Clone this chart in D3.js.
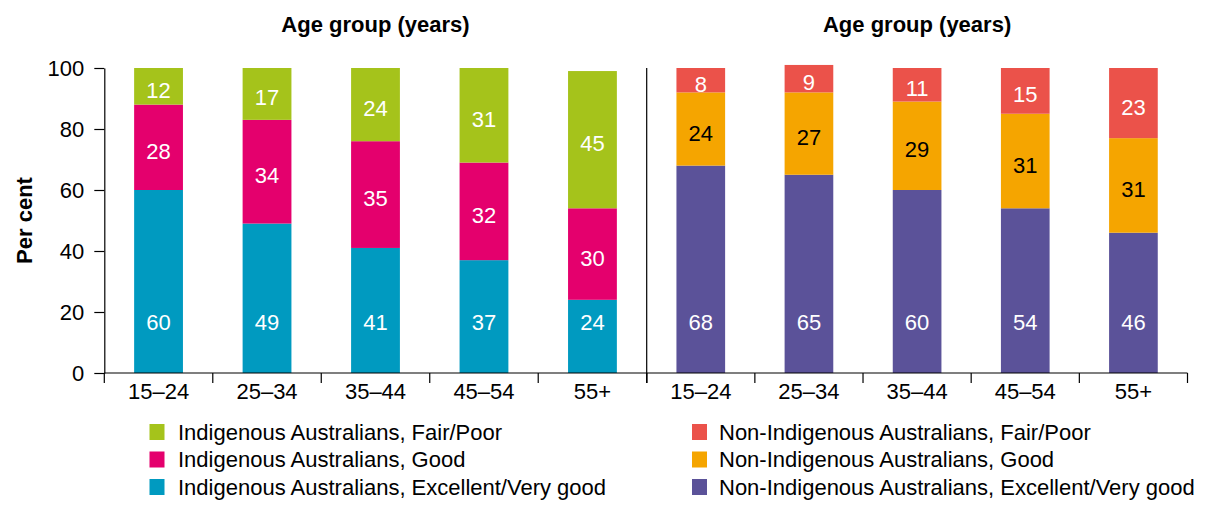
<!DOCTYPE html>
<html>
<head>
<meta charset="utf-8">
<script src="https://cdn.jsdelivr.net/npm/d3@7"></script>
<style>
  html, body { margin: 0; padding: 0; background: #fff; }
  svg { display: block; font-family: "Liberation Sans", Arial, Helvetica, sans-serif; }
</style>
</head>
<body>
<svg id="chart" width="1232" height="517"></svg>
<script>
// ---- Data ----
const ageGroups = ["15–24", "25–34", "35–44", "45–54", "55+"];
const yTicks = [0, 20, 40, 60, 80, 100];

const indigenousExcellent = [60, 49, 41, 37, 24];
const indigenousGood      = [28, 34, 35, 32, 30];
const indigenousFair      = [12, 17, 24, 31, 45];

const nonIndigenousExcellent = [68, 65, 60, 54, 46];
const nonIndigenousGood      = [24, 27, 29, 31, 31];
const nonIndigenousFair      = [8, 9, 11, 15, 23];

const panelTitle = "Age group (years)";
const yTitle = "Per cent";

const legendLeft = [
  "Indigenous Australians, Fair/Poor",
  "Indigenous Australians, Good",
  "Indigenous Australians, Excellent/Very good"
];
const legendRight = [
  "Non-Indigenous Australians, Fair/Poor",
  "Non-Indigenous Australians, Good",
  "Non-Indigenous Australians, Excellent/Very good"
];

// ---- Styles ----
const colors = {
  iFair: "#A5C31B", iGood: "#E4006D", iExc: "#009AC0",
  nFair: "#EB524A", nGood: "#F5A500", nExc: "#5B5299"
};

const svg = d3.select("#chart");

const plotTop = 68, plotBottom = 373;
const leftX0 = 104.3, mid = 646.7, rightX1 = 1187.5;

const y = d3.scaleLinear().domain([0, 100]).range([plotBottom, plotTop]);

const xL = d3.scaleBand().domain(ageGroups).range([leftX0, mid]).paddingInner(0.55).paddingOuter(0.275);
const xR = d3.scaleBand().domain(ageGroups).range([mid, rightX1]).paddingInner(0.55).paddingOuter(0.275);

const fontSize = 22;

function drawPanel(x, series, keyColors, labelColors, title) {
  const g = svg.append("g");
  ageGroups.forEach((age, i) => {
    let base = 0;
    series.forEach((vals, s) => {
      const v = vals[i];
      const y0 = base, y1 = base + v;
      g.append("rect")
        .attr("x", x(age))
        .attr("width", x.bandwidth())
        .attr("y", y(y1))
        .attr("height", y(y0) - y(y1))
        .attr("fill", keyColors[s]);
      const labelVal = s === 0 ? 16.4 : (y0 + y1) / 2;
      g.append("text")
        .attr("x", x(age) + x.bandwidth() / 2)
        .attr("y", y(labelVal) + (s === 0 ? 0 : 4))
        .attr("text-anchor", "middle")
        .attr("dominant-baseline", "central")
        .attr("font-size", fontSize)
        .attr("fill", labelColors[s])
        .text(v);
      base = y1;
    });
  });
  const ax = d3.axisBottom(x).tickSize(0).tickPadding(10);
  const axg = svg.append("g").attr("transform", `translate(0,${plotBottom})`).call(ax);
  axg.select(".domain").remove();
  axg.selectAll("text").attr("font-size", fontSize).attr("fill", "#000").style("font-family", "Liberation Sans, Arial, sans-serif");
  const r = x.range();
  const bounds = d3.range(ageGroups.length + 1).map(k => r[0] + k * x.step());
  svg.append("g").selectAll("line").data(bounds).join("line")
    .attr("x1", d => d).attr("x2", d => d)
    .attr("y1", plotBottom).attr("y2", plotBottom + 10)
    .attr("stroke", "#000").attr("stroke-width", 1.2);
  svg.append("text")
    .attr("x", (r[0] + r[1]) / 2)
    .attr("y", 32)
    .attr("text-anchor", "middle")
    .attr("font-size", fontSize)
    .attr("font-weight", "bold")
    .text(title);
}

drawPanel(xL, [indigenousExcellent, indigenousGood, indigenousFair],
  [colors.iExc, colors.iGood, colors.iFair], ["#fff", "#fff", "#fff"], panelTitle);
drawPanel(xR, [nonIndigenousExcellent, nonIndigenousGood, nonIndigenousFair],
  [colors.nExc, colors.nGood, colors.nFair], ["#fff", "#000", "#fff"], panelTitle);

const yAxis = d3.axisLeft(y).tickValues(yTicks).tickSize(10).tickSizeOuter(0).tickPadding(10);
const yg = svg.append("g").attr("transform", `translate(${leftX0},0)`).call(yAxis);
yg.select(".domain").attr("stroke", "#000").attr("stroke-width", 1.2);
yg.selectAll(".tick line").attr("stroke", "#000").attr("stroke-width", 1.2);
yg.selectAll("text").attr("font-size", fontSize).attr("fill", "#000").style("font-family", "Liberation Sans, Arial, sans-serif");

svg.append("line")
  .attr("x1", leftX0).attr("x2", rightX1)
  .attr("y1", plotBottom).attr("y2", plotBottom)
  .attr("stroke", "#000").attr("stroke-width", 1.2);

svg.append("line")
  .attr("x1", mid).attr("x2", mid)
  .attr("y1", plotTop).attr("y2", plotBottom + 10)
  .attr("stroke", "#000").attr("stroke-width", 1.2);

svg.append("text")
  .attr("transform", `translate(32,${(plotTop + plotBottom) / 2}) rotate(-90)`)
  .attr("text-anchor", "middle")
  .attr("font-size", fontSize)
  .attr("font-weight", "bold")
  .text(yTitle);

const rowsY = [432, 459.5, 487];
function drawLegend(items, cols, sqX, txtX) {
  const lg = svg.append("g");
  items.forEach((t, i) => {
    lg.append("rect").attr("x", sqX).attr("y", rowsY[i] - 8).attr("width", 15).attr("height", 16).attr("fill", cols[i]);
    lg.append("text").attr("x", txtX).attr("y", rowsY[i]).attr("dominant-baseline", "central")
      .attr("font-size", fontSize).attr("fill", "#000").text(t);
  });
}
drawLegend(legendLeft, [colors.iFair, colors.iGood, colors.iExc], 149.5, 178);
drawLegend(legendRight, [colors.nFair, colors.nGood, colors.nExc], 692, 719);
</script>
</body>
</html>
